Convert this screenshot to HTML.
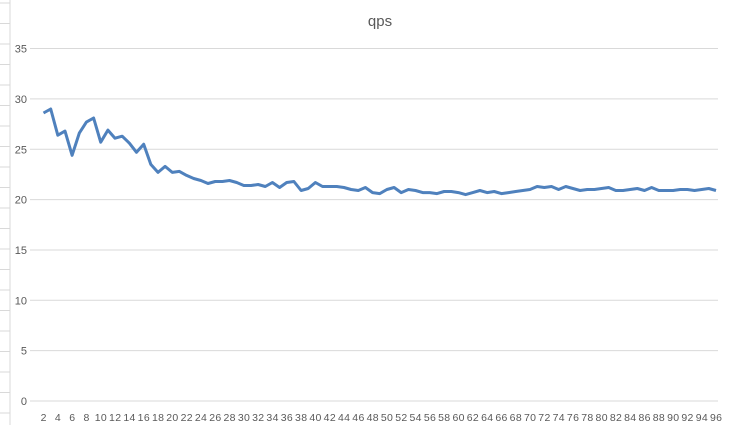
<!DOCTYPE html>
<html><head><meta charset="utf-8"><style>
body{margin:0;background:#fff;font-family:"Liberation Sans",sans-serif}
svg{display:block}
</style></head><body>
<svg id="chart" width="729" height="425">
<text x="380" y="26" text-anchor="middle" font-size="15" fill="#595959">qps</text>
<g id="sheet"></g>
<g id="grid"></g>
<g id="yticks"></g>
<g id="xticks"></g>
<path id="line" fill="none" stroke="#4f81bd" stroke-width="3" stroke-linejoin="round"/>
</svg>
<script>
const categories = [];
for (let i = 2; i <= 96; i++) categories.push(i);
const qpsValues = [28.6,29.0,26.4,26.8,24.4,26.6,27.7,28.1,25.7,26.9,26.1,26.3,25.6,24.7,25.5,23.5,22.7,23.3,22.7,22.8,22.4,22.1,21.9,21.6,21.8,21.8,21.9,21.7,21.4,21.4,21.5,21.3,21.7,21.2,21.7,21.8,20.9,21.1,21.7,21.3,21.3,21.3,21.2,21.0,20.9,21.2,20.7,20.6,21.0,21.2,20.7,21.0,20.9,20.7,20.7,20.6,20.8,20.8,20.7,20.5,20.7,20.9,20.7,20.8,20.6,20.7,20.8,20.9,21.0,21.3,21.2,21.3,21.0,21.3,21.1,20.9,21.0,21.0,21.1,21.2,20.9,20.9,21.0,21.1,20.9,21.2,20.9,20.9,20.9,21.0,21.0,20.9,21.0,21.1,20.9];
const yTicks = [0,5,10,15,20,25,30,35];
const NS = "http://www.w3.org/2000/svg";
const y0 = 401, pxPerUnit = 10.07;
const x0 = 43.5, step = (716 - 43.5) / 94;
function yScale(v){ return y0 - v * pxPerUnit; }
function xScale(i){ return x0 + i * step; }
const sheet = document.getElementById('sheet');
for (let y = 3; y < 425; y += 20.5) {
  const l = document.createElementNS(NS,'line');
  l.setAttribute('x1',0); l.setAttribute('x2',10); l.setAttribute('y1',y); l.setAttribute('y2',y);
  l.setAttribute('stroke','#d9d9d9');
  
  
  sheet.appendChild(l);
}
const vl = document.createElementNS(NS,'line');
vl.setAttribute('x1',10); vl.setAttribute('x2',10); vl.setAttribute('y1',0); vl.setAttribute('y2',425);
vl.setAttribute('stroke','#d9d9d9');


sheet.appendChild(vl);
const grid = document.getElementById('grid'), yt = document.getElementById('yticks');
yTicks.forEach(t => {
  const y = yScale(t);
  const l = document.createElementNS(NS,'line');
  l.setAttribute('x1',30); l.setAttribute('x2',718); l.setAttribute('y1',y); l.setAttribute('y2',y);
  l.setAttribute('stroke','#d9d9d9');
  
  
  grid.appendChild(l);
  const tx = document.createElementNS(NS,'text');
  tx.setAttribute('x',27); tx.setAttribute('y',y+4); tx.setAttribute('text-anchor','end');
  tx.setAttribute('font-size','11'); tx.setAttribute('fill','#595959');
  tx.textContent = t;
  
  
  yt.appendChild(tx);
});
const xt = document.getElementById('xticks');
categories.forEach((c,i) => {
  if (c % 2) return;
  const tx = document.createElementNS(NS,'text');
  tx.setAttribute('x',xScale(i)); tx.setAttribute('y',421); tx.setAttribute('text-anchor','middle');
  tx.setAttribute('font-size','10.5'); tx.setAttribute('fill','#595959');
  tx.setAttribute('textLength', c >= 10 ? 12 : 6);
  tx.textContent = c;
  
  
  xt.appendChild(tx);
});
document.getElementById('line').setAttribute('d', qpsValues.map((v,i)=>(i?'L':'M')+xScale(i).toFixed(1)+','+yScale(v).toFixed(1)).join(''));
</script>
</body></html>
